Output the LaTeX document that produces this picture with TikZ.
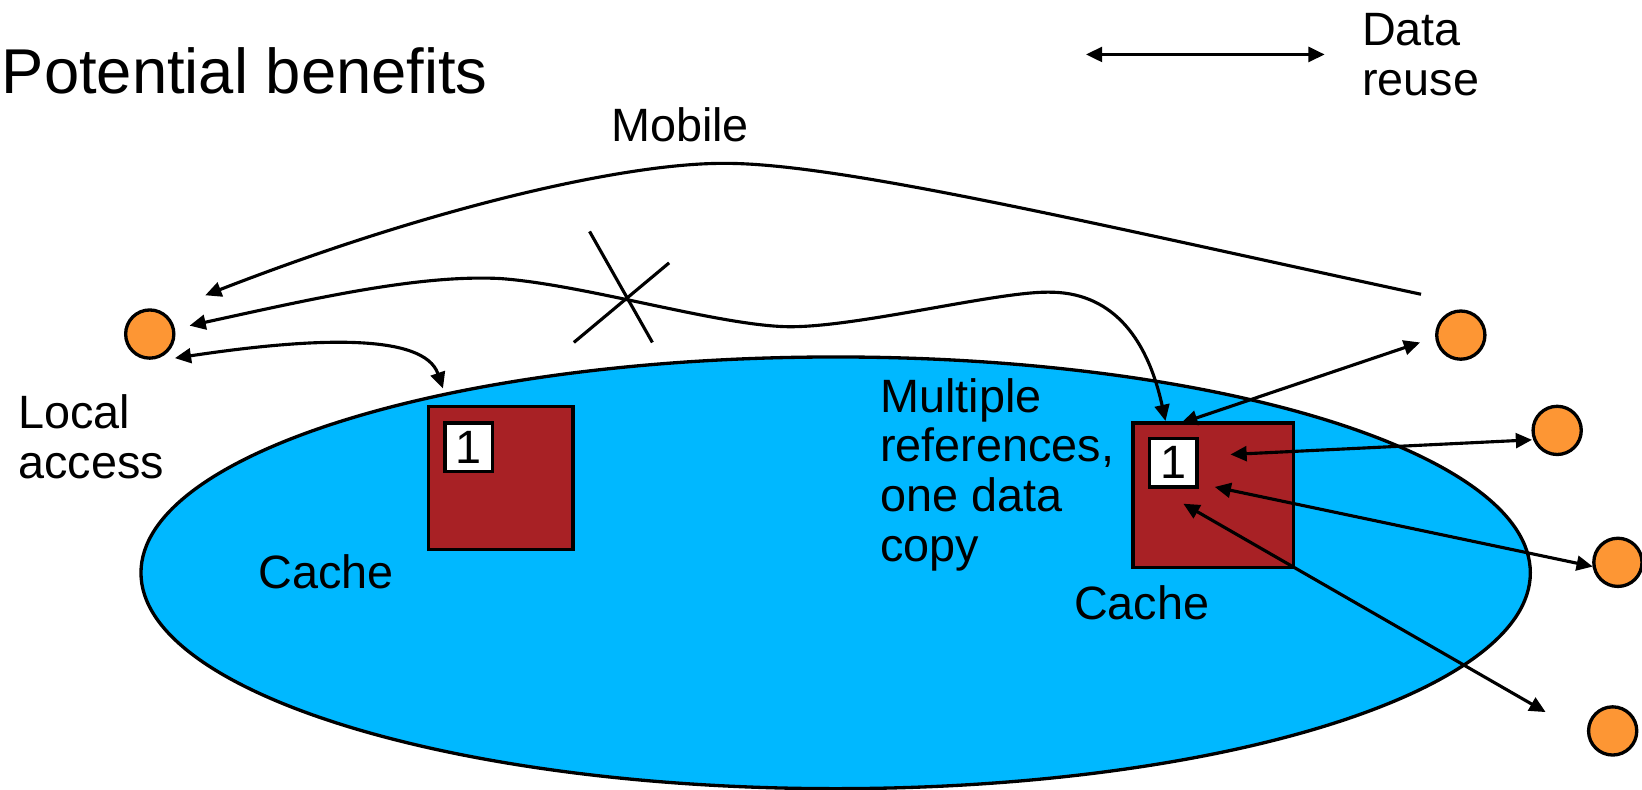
\documentclass[tikz,border=0pt]{standalone}
\usepackage{fontspec}
\setmainfont{Liberation Sans}
\usetikzlibrary{arrows.meta}

\definecolor{poolblue}{RGB}{0,184,255}
\definecolor{cachered}{RGB}{168,33,37}
\definecolor{dotorange}{RGB}{253,150,52}

\tikzset{
    lbl/.style={font=\fontsize{12.7}{13.5}\selectfont, inner sep=0pt, anchor=base west, align=left},
    dot/.style={circle, draw, line width=0.9pt, fill=dotorange, minimum size=0.46cm, inner sep=0pt},
    cachebox/.style={draw, line width=0.9pt, fill=cachered, inner sep=0pt},
    onebox/.style={draw, line width=0.9pt, fill=white, inner sep=0pt, minimum width=0.45cm, minimum height=0.46cm, font=\fontsize{12.7}{13.5}\selectfont},
    tip/.tip={Triangle[length=4.4pt,width=4pt]},
    link/.style={line width=0.85pt, tip-tip},
}

\begin{document}
\begin{tikzpicture}[x=0.01cm, y=-0.01cm]
    \useasboundingbox (0,0) rectangle (1568,754);

    \draw[line width=0.9pt, fill=poolblue] (798,547) ellipse [x radius=6.63cm, y radius=2.06cm]; % shared pool

    % caches with their copy
    \node[cachebox, minimum width=1.38cm, minimum height=1.37cm] (cacheL) at (478,456.5) {};
    \node[cachebox, minimum width=1.53cm, minimum height=1.38cm] (cacheR) at (1158.5,473) {};
    \node[onebox] (copyL) at (447.5,427) {1};
    \node[onebox] (copyR) at (1120.5,442) {1};

    % processors
    \node[dot] (home) at (143,319) {};
    \node[dot] (far1) at (1395,320) {};
    \node[dot] (far2) at (1487,411) {};
    \node[dot] (far3) at (1545,537) {};
    \node[dot] (far4) at (1540,698) {};

    % texts (base = last line)
    \node[lbl, font=\fontsize{17.2}{20}\selectfont] (title) at (1,89) {Potential benefits};
    \node[lbl] (reuse) at (1300,91) {Data\\reuse};
    \node[lbl] (mobile) at (583,135) {Mobile};
    \node[lbl] (local) at (17,457) {Local\\access};
    \node[lbl] (cacheLtxt) at (246,562) {Cache};
    \node[lbl] (multi) at (840,536) {Multiple\\references,\\one data\\copy};
    \node[lbl] (cacheRtxt) at (1025,592) {Cache};

    % legend arrow
    \coordinate (la) at (1037,52);
    \coordinate (lb) at (1265,52);
    \draw[link] (la) -- (lb);

    % mobile data follows the processor
    \coordinate (m1) at (1357,281);
    \coordinate (m2) at (196,282);
    \draw[line width=0.85pt, -tip] (m1) .. controls (1050,215) and (800,155) .. (690,156)
        .. controls (600,156) and (420,195) .. (m2);

    % remote access, crossed out
    \coordinate (n1) at (1113,402);
    \coordinate (n2) at (181,311);
    \draw[link] (n1) .. controls (1095,320) and (1060,278) .. (1000,279)
        .. controls (950,279) and (820,312) .. (755,312)
        .. controls (690,312) and (560,272) .. (478,266)
        .. controls (400,262) and (300,285) .. (n2);
    \coordinate (x1) at (563,221);
    \coordinate (x2) at (623,327);
    \coordinate (x3) at (548,327);
    \coordinate (x4) at (639,251);
    \draw[line width=0.85pt] (x1) -- (x2) (x3) -- (x4); % the cross

    % local access
    \coordinate (l1) at (167,342);
    \coordinate (l2) at (423,371);
    \draw[link] (l1) .. controls (300,322) and (405,318) .. (l2);

    % many readers, one copy
    \coordinate (a1) at (1128,404);
    \coordinate (b1) at (1356,327);
    \coordinate (a2) at (1175,434);
    \coordinate (b2) at (1463,420);
    \coordinate (a3) at (1160,465);
    \coordinate (b3) at (1521,541);
    \coordinate (a4) at (1130,481);
    \coordinate (b4) at (1476,680);
    \draw[link] (a1) -- (b1);
    \draw[link] (a2) -- (b2);
    \draw[link] (a3) -- (b3);
    \draw[link] (a4) -- (b4);
\end{tikzpicture}
\end{document}
